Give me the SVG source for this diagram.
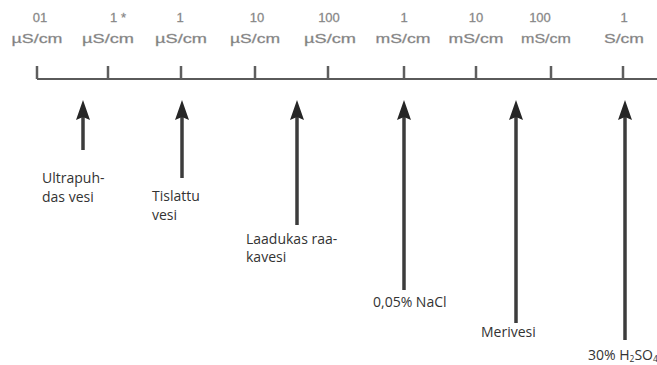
<svg xmlns="http://www.w3.org/2000/svg" width="657" height="365" viewBox="0 0 657 365">
<style>
.num{font-family:"Liberation Sans",Arial,sans-serif;font-size:13px;fill:#7c7c7c;stroke:#9a9a9a;stroke-width:0.3;text-anchor:middle}
.unit{font-family:"Liberation Sans",Arial,sans-serif;font-size:13px;fill:#7c7c7c;stroke:#9a9a9a;stroke-width:0.3;text-anchor:middle}
.tick{stroke:#5e5e5e;stroke-width:2.5}
.axis{stroke:#5a5a5a;stroke-width:2}
.lbl{font-family:"Open Sans","Noto Sans",sans-serif;font-size:14px;fill:#333}
.arr{stroke:#3c3c3c;stroke-width:3.5;fill:none;marker-end:url(#ah)}
</style>
<defs>
<marker id="ah" markerUnits="userSpaceOnUse" viewBox="0 0 20 14" markerWidth="20" markerHeight="14" refX="6" refY="7" orient="auto">
<path d="M0,0 L20,7 L0,14 L3,7 Z" fill="#262626"/>
</marker>
</defs>
<rect width="657" height="365" fill="#fff"/>
<g id="scale">
<line class="axis" x1="37" y1="79" x2="657" y2="79"/>
<g id="ticks">
<line class="tick" x1="37" y1="66" x2="37" y2="79"/>
<line class="tick" x1="108" y1="66" x2="108" y2="79"/>
<line class="tick" x1="181" y1="66" x2="181" y2="79"/>
<line class="tick" x1="255" y1="66" x2="255" y2="79"/>
<line class="tick" x1="328" y1="66" x2="328" y2="79"/>
<line class="tick" x1="404" y1="66" x2="404" y2="79"/>
<line class="tick" x1="476" y1="66" x2="476" y2="79"/>
<line class="tick" x1="551" y1="66" x2="551" y2="79"/>
<line class="tick" x1="623" y1="66" x2="623" y2="79"/>
</g>
<g id="scale-labels">
<text class="num" x="40" y="22">01</text>
<text class="num" x="118" y="22">1 *</text>
<text class="num" x="180" y="22">1</text>
<text class="num" x="257" y="22">10</text>
<text class="num" x="329" y="22">100</text>
<text class="num" x="404" y="22">1</text>
<text class="num" x="476" y="22">10</text>
<text class="num" x="540" y="22">100</text>
<text class="num" x="624" y="22">1</text>
<text class="unit" x="37" y="43" textLength="51" lengthAdjust="spacingAndGlyphs">µS/cm</text>
<text class="unit" x="108" y="43" textLength="52" lengthAdjust="spacingAndGlyphs">µS/cm</text>
<text class="unit" x="181" y="43" textLength="52" lengthAdjust="spacingAndGlyphs">µS/cm</text>
<text class="unit" x="255" y="43" textLength="50" lengthAdjust="spacingAndGlyphs">µS/cm</text>
<text class="unit" x="330" y="43" textLength="52" lengthAdjust="spacingAndGlyphs">µS/cm</text>
<text class="unit" x="403" y="43" textLength="55" lengthAdjust="spacingAndGlyphs">mS/cm</text>
<text class="unit" x="476" y="43" textLength="55" lengthAdjust="spacingAndGlyphs">mS/cm</text>
<text class="unit" x="546" y="43" textLength="50" lengthAdjust="spacingAndGlyphs">mS/cm</text>
<text class="unit" x="624" y="43" textLength="40" lengthAdjust="spacingAndGlyphs">S/cm</text>
</g>
</g>
<g id="connectors">
<line class="arr" x1="83" y1="150" x2="83" y2="114"/>
<line class="arr" x1="182" y1="178" x2="182" y2="114"/>
<line class="arr" x1="297" y1="225" x2="297" y2="114"/>
<line class="arr" x1="404" y1="290" x2="404" y2="114"/>
<line class="arr" x1="516" y1="323" x2="516" y2="114"/>
<line class="arr" x1="625" y1="340" x2="625" y2="114"/>
</g>
<g id="ultrapuhdas"><text class="lbl" x="42" y="183">Ultrapuh-</text><text class="lbl" x="42" y="202">das vesi</text></g>
<g id="tislattu"><text class="lbl" x="152" y="201">Tislattu</text><text class="lbl" x="152" y="220">vesi</text></g>
<g id="raakavesi"><text class="lbl" x="246" y="244">Laadukas raa-</text><text class="lbl" x="246" y="262">kavesi</text></g>
<g id="nacl"><text class="lbl" x="373" y="307">0,05% NaCl</text></g>
<g id="merivesi"><text class="lbl" x="481" y="337">Merivesi</text></g>
<g id="h2so4"><text class="lbl" x="588" y="360" font-size="12">30% H<tspan font-size="8.5" dy="2">2</tspan><tspan dy="-2">SO</tspan><tspan font-size="8.5" dy="2">4</tspan></text></g>
</svg>
